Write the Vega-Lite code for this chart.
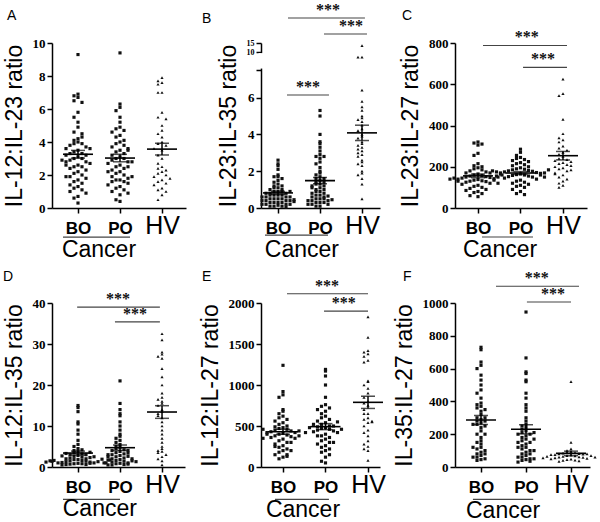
{
"$schema": "https://vega.github.io/schema/vega-lite/v6.json",
"padding": {"left": 2, "top": 1, "right": 0, "bottom": 0},
"datasets": {
"A": [{"g":"BO","v":9.3},{"g":"BO","v":6.9},{"g":"BO","v":6.8},{"g":"BO","v":6.7},{"g":"BO","v":6.5},{"g":"BO","v":6.4},{"g":"BO","v":5.8},{"g":"BO","v":5.5},{"g":"BO","v":5.2},{"g":"BO","v":4.9},{"g":"BO","v":4.6},{"g":"BO","v":4.5},{"g":"BO","v":4.2},{"g":"BO","v":4.1},{"g":"BO","v":4.0},{"g":"BO","v":3.9},{"g":"BO","v":3.9},{"g":"BO","v":3.8},{"g":"BO","v":3.7},{"g":"BO","v":3.6},{"g":"BO","v":3.5},{"g":"BO","v":3.4},{"g":"BO","v":3.3},{"g":"BO","v":3.3},{"g":"BO","v":3.2},{"g":"BO","v":3.2},{"g":"BO","v":3.1},{"g":"BO","v":3.0},{"g":"BO","v":3.0},{"g":"BO","v":2.9},{"g":"BO","v":2.8},{"g":"BO","v":2.8},{"g":"BO","v":2.7},{"g":"BO","v":2.6},{"g":"BO","v":2.5},{"g":"BO","v":2.5},{"g":"BO","v":2.4},{"g":"BO","v":2.3},{"g":"BO","v":2.2},{"g":"BO","v":2.1},{"g":"BO","v":2.0},{"g":"BO","v":1.9},{"g":"BO","v":1.8},{"g":"BO","v":1.7},{"g":"BO","v":1.6},{"g":"BO","v":1.5},{"g":"BO","v":1.4},{"g":"BO","v":1.3},{"g":"BO","v":1.2},{"g":"BO","v":1.1},{"g":"BO","v":1.0},{"g":"BO","v":0.9},{"g":"BO","v":0.7},{"g":"BO","v":0.6},{"g":"BO","v":0.3},{"g":"BO","v":3.6},{"g":"BO","v":2.6},{"g":"BO","v":1.9},{"g":"BO","v":4.3},{"g":"BO","v":2.9},
{"g":"PO","v":9.4},{"g":"PO","v":6.3},{"g":"PO","v":6.1},{"g":"PO","v":5.9},{"g":"PO","v":5.5},{"g":"PO","v":5.2},{"g":"PO","v":4.9},{"g":"PO","v":4.8},{"g":"PO","v":4.7},{"g":"PO","v":4.6},{"g":"PO","v":4.4},{"g":"PO","v":4.3},{"g":"PO","v":4.1},{"g":"PO","v":4.0},{"g":"PO","v":3.9},{"g":"PO","v":3.8},{"g":"PO","v":3.7},{"g":"PO","v":3.6},{"g":"PO","v":3.5},{"g":"PO","v":3.4},{"g":"PO","v":3.3},{"g":"PO","v":3.2},{"g":"PO","v":3.1},{"g":"PO","v":3.0},{"g":"PO","v":3.0},{"g":"PO","v":2.9},{"g":"PO","v":2.8},{"g":"PO","v":2.7},{"g":"PO","v":2.6},{"g":"PO","v":2.5},{"g":"PO","v":2.4},{"g":"PO","v":2.3},{"g":"PO","v":2.2},{"g":"PO","v":2.1},{"g":"PO","v":2.0},{"g":"PO","v":1.9},{"g":"PO","v":1.8},{"g":"PO","v":1.7},{"g":"PO","v":1.7},{"g":"PO","v":1.6},{"g":"PO","v":1.6},{"g":"PO","v":1.5},{"g":"PO","v":1.4},{"g":"PO","v":1.3},{"g":"PO","v":1.2},{"g":"PO","v":1.1},{"g":"PO","v":1.0},{"g":"PO","v":0.9},{"g":"PO","v":0.8},{"g":"PO","v":0.5},{"g":"PO","v":0.4},{"g":"PO","v":2.5},{"g":"PO","v":2.2},{"g":"PO","v":3.5},{"g":"PO","v":1.9},{"g":"PO","v":2.8},
{"g":"HV","v":7.9},{"g":"HV","v":7.7},{"g":"HV","v":7.6},{"g":"HV","v":7.5},{"g":"HV","v":7.0},{"g":"HV","v":7.0},{"g":"HV","v":5.8},{"g":"HV","v":5.5},{"g":"HV","v":5.4},{"g":"HV","v":5.0},{"g":"HV","v":4.7},{"g":"HV","v":4.5},{"g":"HV","v":4.3},{"g":"HV","v":4.0},{"g":"HV","v":3.9},{"g":"HV","v":3.8},{"g":"HV","v":3.6},{"g":"HV","v":3.5},{"g":"HV","v":3.2},{"g":"HV","v":3.0},{"g":"HV","v":2.7},{"g":"HV","v":2.5},{"g":"HV","v":2.4},{"g":"HV","v":2.3},{"g":"HV","v":2.2},{"g":"HV","v":2.1},{"g":"HV","v":2.0},{"g":"HV","v":1.9},{"g":"HV","v":1.8},{"g":"HV","v":1.7},{"g":"HV","v":1.6},{"g":"HV","v":1.5},{"g":"HV","v":1.4},{"g":"HV","v":1.2},{"g":"HV","v":1.1},{"g":"HV","v":1.0},{"g":"HV","v":0.8},{"g":"HV","v":0.5}],
"B": [{"g":"BO","v":2.6},{"g":"BO","v":2.4},{"g":"BO","v":2.3},{"g":"BO","v":2.1},{"g":"BO","v":1.8},{"g":"BO","v":1.7},{"g":"BO","v":1.7},{"g":"BO","v":1.6},{"g":"BO","v":1.5},{"g":"BO","v":1.4},{"g":"BO","v":1.3},{"g":"BO","v":1.2},{"g":"BO","v":1.1},{"g":"BO","v":1.1},{"g":"BO","v":1.0},{"g":"BO","v":1.0},{"g":"BO","v":0.9},{"g":"BO","v":0.9},{"g":"BO","v":0.9},{"g":"BO","v":0.8},{"g":"BO","v":0.8},{"g":"BO","v":0.8},{"g":"BO","v":0.7},{"g":"BO","v":0.7},{"g":"BO","v":0.7},{"g":"BO","v":0.7},{"g":"BO","v":0.6},{"g":"BO","v":0.6},{"g":"BO","v":0.6},{"g":"BO","v":0.5},{"g":"BO","v":0.5},{"g":"BO","v":0.5},{"g":"BO","v":0.5},{"g":"BO","v":0.4},{"g":"BO","v":0.4},{"g":"BO","v":0.4},{"g":"BO","v":0.4},{"g":"BO","v":0.3},{"g":"BO","v":0.3},{"g":"BO","v":0.3},{"g":"BO","v":0.3},{"g":"BO","v":0.2},{"g":"BO","v":0.2},{"g":"BO","v":0.2},{"g":"BO","v":0.2},{"g":"BO","v":0.15},{"g":"BO","v":0.1},{"g":"BO","v":0.1},{"g":"BO","v":0.1},{"g":"BO","v":0.05},{"g":"BO","v":0.6},{"g":"BO","v":0.9},{"g":"BO","v":1.2},{"g":"BO","v":0.35},{"g":"BO","v":0.45},
{"g":"PO","v":5.3},{"g":"PO","v":5.0},{"g":"PO","v":4.0},{"g":"PO","v":3.6},{"g":"PO","v":3.5},{"g":"PO","v":3.3},{"g":"PO","v":2.9},{"g":"PO","v":2.8},{"g":"PO","v":2.8},{"g":"PO","v":2.7},{"g":"PO","v":2.5},{"g":"PO","v":2.2},{"g":"PO","v":2.0},{"g":"PO","v":1.9},{"g":"PO","v":1.8},{"g":"PO","v":1.7},{"g":"PO","v":1.6},{"g":"PO","v":1.6},{"g":"PO","v":1.5},{"g":"PO","v":1.4},{"g":"PO","v":1.4},{"g":"PO","v":1.3},{"g":"PO","v":1.3},{"g":"PO","v":1.2},{"g":"PO","v":1.2},{"g":"PO","v":1.1},{"g":"PO","v":1.0},{"g":"PO","v":1.0},{"g":"PO","v":0.9},{"g":"PO","v":0.9},{"g":"PO","v":0.8},{"g":"PO","v":0.8},{"g":"PO","v":0.7},{"g":"PO","v":0.7},{"g":"PO","v":0.6},{"g":"PO","v":0.6},{"g":"PO","v":0.5},{"g":"PO","v":0.5},{"g":"PO","v":0.5},{"g":"PO","v":0.4},{"g":"PO","v":0.4},{"g":"PO","v":0.4},{"g":"PO","v":0.3},{"g":"PO","v":0.3},{"g":"PO","v":0.3},{"g":"PO","v":0.2},{"g":"PO","v":0.2},{"g":"PO","v":0.2},{"g":"PO","v":0.1},{"g":"PO","v":0.1},{"g":"PO","v":3.1},{"g":"PO","v":2.4},{"g":"PO","v":1.1},{"g":"PO","v":0.65},{"g":"PO","v":0.45},
{"g":"HV","v":13.6},{"g":"HV","v":9.3},{"g":"HV","v":9.3},{"g":"HV","v":6.4},{"g":"HV","v":5.8},{"g":"HV","v":5.5},{"g":"HV","v":5.3},{"g":"HV","v":5.0},{"g":"HV","v":4.9},{"g":"HV","v":4.8},{"g":"HV","v":4.7},{"g":"HV","v":4.5},{"g":"HV","v":4.3},{"g":"HV","v":4.2},{"g":"HV","v":4.0},{"g":"HV","v":3.9},{"g":"HV","v":3.8},{"g":"HV","v":3.6},{"g":"HV","v":3.5},{"g":"HV","v":3.4},{"g":"HV","v":3.3},{"g":"HV","v":3.2},{"g":"HV","v":3.1},{"g":"HV","v":3.0},{"g":"HV","v":2.9},{"g":"HV","v":2.8},{"g":"HV","v":2.6},{"g":"HV","v":2.5},{"g":"HV","v":2.4},{"g":"HV","v":2.3},{"g":"HV","v":2.0},{"g":"HV","v":1.9},{"g":"HV","v":1.8},{"g":"HV","v":1.6},{"g":"HV","v":1.3},{"g":"HV","v":0.5}],
"C": [{"g":"BO","v":320},{"g":"BO","v":315},{"g":"BO","v":310},{"g":"BO","v":305},{"g":"BO","v":265},{"g":"BO","v":255},{"g":"BO","v":215},{"g":"BO","v":205},{"g":"BO","v":200},{"g":"BO","v":195},{"g":"BO","v":190},{"g":"BO","v":185},{"g":"BO","v":180},{"g":"BO","v":175},{"g":"BO","v":170},{"g":"BO","v":165},{"g":"BO","v":160},{"g":"BO","v":158},{"g":"BO","v":155},{"g":"BO","v":152},{"g":"BO","v":150},{"g":"BO","v":148},{"g":"BO","v":145},{"g":"BO","v":142},{"g":"BO","v":140},{"g":"BO","v":138},{"g":"BO","v":135},{"g":"BO","v":132},{"g":"BO","v":130},{"g":"BO","v":128},{"g":"BO","v":125},{"g":"BO","v":120},{"g":"BO","v":115},{"g":"BO","v":110},{"g":"BO","v":105},{"g":"BO","v":100},{"g":"BO","v":95},{"g":"BO","v":90},{"g":"BO","v":85},{"g":"BO","v":80},{"g":"BO","v":75},{"g":"BO","v":70},{"g":"BO","v":60},{"g":"BO","v":55},{"g":"BO","v":150},{"g":"BO","v":145},{"g":"BO","v":160},{"g":"BO","v":140},{"g":"BO","v":135},{"g":"BO","v":130},{"g":"BO","v":120},{"g":"BO","v":170},
{"g":"PO","v":285},{"g":"PO","v":270},{"g":"PO","v":255},{"g":"PO","v":245},{"g":"PO","v":240},{"g":"PO","v":235},{"g":"PO","v":230},{"g":"PO","v":225},{"g":"PO","v":220},{"g":"PO","v":215},{"g":"PO","v":210},{"g":"PO","v":205},{"g":"PO","v":200},{"g":"PO","v":195},{"g":"PO","v":190},{"g":"PO","v":188},{"g":"PO","v":185},{"g":"PO","v":182},{"g":"PO","v":180},{"g":"PO","v":178},{"g":"PO","v":175},{"g":"PO","v":172},{"g":"PO","v":170},{"g":"PO","v":168},{"g":"PO","v":165},{"g":"PO","v":162},{"g":"PO","v":160},{"g":"PO","v":158},{"g":"PO","v":155},{"g":"PO","v":152},{"g":"PO","v":150},{"g":"PO","v":145},{"g":"PO","v":140},{"g":"PO","v":135},{"g":"PO","v":130},{"g":"PO","v":125},{"g":"PO","v":120},{"g":"PO","v":115},{"g":"PO","v":110},{"g":"PO","v":105},{"g":"PO","v":100},{"g":"PO","v":90},{"g":"PO","v":80},{"g":"PO","v":70},{"g":"PO","v":65},{"g":"PO","v":175},{"g":"PO","v":170},{"g":"PO","v":165},{"g":"PO","v":160},{"g":"PO","v":180},{"g":"PO","v":185},{"g":"PO","v":155},{"g":"PO","v":150},
{"g":"HV","v":625},{"g":"HV","v":555},{"g":"HV","v":545},{"g":"HV","v":430},{"g":"HV","v":360},{"g":"HV","v":340},{"g":"HV","v":330},{"g":"HV","v":320},{"g":"HV","v":300},{"g":"HV","v":290},{"g":"HV","v":280},{"g":"HV","v":270},{"g":"HV","v":260},{"g":"HV","v":250},{"g":"HV","v":240},{"g":"HV","v":235},{"g":"HV","v":230},{"g":"HV","v":220},{"g":"HV","v":215},{"g":"HV","v":210},{"g":"HV","v":200},{"g":"HV","v":195},{"g":"HV","v":190},{"g":"HV","v":180},{"g":"HV","v":170},{"g":"HV","v":160},{"g":"HV","v":150},{"g":"HV","v":140},{"g":"HV","v":130},{"g":"HV","v":120},{"g":"HV","v":110},{"g":"HV","v":100},{"g":"HV","v":205},{"g":"HV","v":225},{"g":"HV","v":185},{"g":"HV","v":165}],
"D": [{"g":"BO","v":15},{"g":"BO","v":14.5},{"g":"BO","v":13.5},{"g":"BO","v":11},{"g":"BO","v":10.5},{"g":"BO","v":9},{"g":"BO","v":8},{"g":"BO","v":6.5},{"g":"BO","v":5.5},{"g":"BO","v":5},{"g":"BO","v":4.5},{"g":"BO","v":4},{"g":"BO","v":3.8},{"g":"BO","v":3.5},{"g":"BO","v":3.2},{"g":"BO","v":3},{"g":"BO","v":2.8},{"g":"BO","v":2.6},{"g":"BO","v":2.4},{"g":"BO","v":2.2},{"g":"BO","v":2},{"g":"BO","v":2},{"g":"BO","v":1.8},{"g":"BO","v":1.8},{"g":"BO","v":1.6},{"g":"BO","v":1.5},{"g":"BO","v":1.4},{"g":"BO","v":1.3},{"g":"BO","v":1.2},{"g":"BO","v":1.1},{"g":"BO","v":1},{"g":"BO","v":1},{"g":"BO","v":0.9},{"g":"BO","v":0.8},{"g":"BO","v":0.8},{"g":"BO","v":0.7},{"g":"BO","v":0.6},{"g":"BO","v":1.3},{"g":"BO","v":1.6},{"g":"BO","v":1.9},{"g":"BO","v":2.3},{"g":"BO","v":2.7},{"g":"BO","v":2.5},{"g":"BO","v":1.5},{"g":"BO","v":1},{"g":"BO","v":0.6},{"g":"BO","v":3},{"g":"BO","v":3.3},{"g":"BO","v":3.6},{"g":"BO","v":1.2},{"g":"BO","v":1.7},{"g":"BO","v":4.2},{"g":"BO","v":0.9},{"g":"BO","v":1.4},{"g":"BO","v":0.5},
{"g":"PO","v":21},{"g":"PO","v":15.5},{"g":"PO","v":14},{"g":"PO","v":13},{"g":"PO","v":12.5},{"g":"PO","v":11},{"g":"PO","v":10},{"g":"PO","v":9},{"g":"PO","v":8},{"g":"PO","v":7.5},{"g":"PO","v":7},{"g":"PO","v":6.5},{"g":"PO","v":6},{"g":"PO","v":5.5},{"g":"PO","v":5},{"g":"PO","v":4.8},{"g":"PO","v":4.5},{"g":"PO","v":4.2},{"g":"PO","v":4},{"g":"PO","v":3.8},{"g":"PO","v":3.5},{"g":"PO","v":3.2},{"g":"PO","v":3},{"g":"PO","v":2.8},{"g":"PO","v":2.5},{"g":"PO","v":2.2},{"g":"PO","v":2},{"g":"PO","v":1.8},{"g":"PO","v":1.6},{"g":"PO","v":1.4},{"g":"PO","v":1.2},{"g":"PO","v":1},{"g":"PO","v":0.9},{"g":"PO","v":0.8},{"g":"PO","v":0.6},{"g":"PO","v":0.5},{"g":"PO","v":1.7},{"g":"PO","v":2.6},{"g":"PO","v":3.4},{"g":"PO","v":3},{"g":"PO","v":2.5},{"g":"PO","v":1.5},{"g":"PO","v":1},{"g":"PO","v":4},{"g":"PO","v":2},{"g":"PO","v":0.7},{"g":"PO","v":1.3},{"g":"PO","v":0.5},
{"g":"HV","v":32.5},{"g":"HV","v":31},{"g":"HV","v":28},{"g":"HV","v":27.5},{"g":"HV","v":27},{"g":"HV","v":26.5},{"g":"HV","v":24},{"g":"HV","v":22},{"g":"HV","v":20},{"g":"HV","v":18},{"g":"HV","v":17},{"g":"HV","v":16},{"g":"HV","v":15.5},{"g":"HV","v":15},{"g":"HV","v":14},{"g":"HV","v":13.5},{"g":"HV","v":13},{"g":"HV","v":12},{"g":"HV","v":11},{"g":"HV","v":10},{"g":"HV","v":8},{"g":"HV","v":7},{"g":"HV","v":6},{"g":"HV","v":5},{"g":"HV","v":4.5},{"g":"HV","v":4},{"g":"HV","v":3.8},{"g":"HV","v":3.5},{"g":"HV","v":3},{"g":"HV","v":2.5},{"g":"HV","v":2},{"g":"HV","v":1.5},{"g":"HV","v":0.5},{"g":"HV","v":16.5},{"g":"HV","v":12.5},{"g":"HV","v":9}],
"E": [{"g":"BO","v":1240},{"g":"BO","v":920},{"g":"BO","v":880},{"g":"BO","v":850},{"g":"BO","v":700},{"g":"BO","v":680},{"g":"BO","v":650},{"g":"BO","v":620},{"g":"BO","v":600},{"g":"BO","v":580},{"g":"BO","v":560},{"g":"BO","v":540},{"g":"BO","v":520},{"g":"BO","v":500},{"g":"BO","v":490},{"g":"BO","v":480},{"g":"BO","v":470},{"g":"BO","v":460},{"g":"BO","v":450},{"g":"BO","v":440},{"g":"BO","v":430},{"g":"BO","v":420},{"g":"BO","v":410},{"g":"BO","v":400},{"g":"BO","v":390},{"g":"BO","v":380},{"g":"BO","v":370},{"g":"BO","v":360},{"g":"BO","v":350},{"g":"BO","v":340},{"g":"BO","v":320},{"g":"BO","v":300},{"g":"BO","v":280},{"g":"BO","v":260},{"g":"BO","v":240},{"g":"BO","v":220},{"g":"BO","v":200},{"g":"BO","v":180},{"g":"BO","v":150},{"g":"BO","v":120},{"g":"BO","v":100},{"g":"BO","v":420},{"g":"BO","v":400},{"g":"BO","v":440},{"g":"BO","v":380},{"g":"BO","v":460},{"g":"BO","v":350},{"g":"BO","v":300},{"g":"BO","v":250},{"g":"BO","v":150},{"g":"BO","v":200},{"g":"BO","v":130},
{"g":"PO","v":1190},{"g":"PO","v":1170},{"g":"PO","v":1110},{"g":"PO","v":1000},{"g":"PO","v":850},{"g":"PO","v":760},{"g":"PO","v":740},{"g":"PO","v":720},{"g":"PO","v":700},{"g":"PO","v":680},{"g":"PO","v":650},{"g":"PO","v":620},{"g":"PO","v":600},{"g":"PO","v":580},{"g":"PO","v":560},{"g":"PO","v":540},{"g":"PO","v":520},{"g":"PO","v":500},{"g":"PO","v":490},{"g":"PO","v":480},{"g":"PO","v":470},{"g":"PO","v":460},{"g":"PO","v":450},{"g":"PO","v":440},{"g":"PO","v":430},{"g":"PO","v":420},{"g":"PO","v":400},{"g":"PO","v":380},{"g":"PO","v":360},{"g":"PO","v":340},{"g":"PO","v":320},{"g":"PO","v":300},{"g":"PO","v":280},{"g":"PO","v":260},{"g":"PO","v":240},{"g":"PO","v":220},{"g":"PO","v":200},{"g":"PO","v":180},{"g":"PO","v":150},{"g":"PO","v":120},{"g":"PO","v":70},{"g":"PO","v":50},{"g":"PO","v":500},{"g":"PO","v":480},{"g":"PO","v":460},{"g":"PO","v":520},{"g":"PO","v":550},{"g":"PO","v":420},{"g":"PO","v":380},{"g":"PO","v":300},
{"g":"HV","v":1830},{"g":"HV","v":1580},{"g":"HV","v":1420},{"g":"HV","v":1400},{"g":"HV","v":1380},{"g":"HV","v":1350},{"g":"HV","v":1300},{"g":"HV","v":1280},{"g":"HV","v":1050},{"g":"HV","v":1040},{"g":"HV","v":1000},{"g":"HV","v":960},{"g":"HV","v":900},{"g":"HV","v":850},{"g":"HV","v":800},{"g":"HV","v":780},{"g":"HV","v":750},{"g":"HV","v":700},{"g":"HV","v":650},{"g":"HV","v":600},{"g":"HV","v":580},{"g":"HV","v":560},{"g":"HV","v":540},{"g":"HV","v":500},{"g":"HV","v":450},{"g":"HV","v":420},{"g":"HV","v":380},{"g":"HV","v":320},{"g":"HV","v":280},{"g":"HV","v":250},{"g":"HV","v":220},{"g":"HV","v":200},{"g":"HV","v":80},{"g":"HV","v":650},{"g":"HV","v":550}],
"F": [{"g":"BO","v":730},{"g":"BO","v":715},{"g":"BO","v":640},{"g":"BO","v":620},{"g":"BO","v":600},{"g":"BO","v":560},{"g":"BO","v":530},{"g":"BO","v":500},{"g":"BO","v":470},{"g":"BO","v":450},{"g":"BO","v":420},{"g":"BO","v":390},{"g":"BO","v":380},{"g":"BO","v":370},{"g":"BO","v":360},{"g":"BO","v":350},{"g":"BO","v":340},{"g":"BO","v":320},{"g":"BO","v":300},{"g":"BO","v":290},{"g":"BO","v":280},{"g":"BO","v":270},{"g":"BO","v":260},{"g":"BO","v":250},{"g":"BO","v":240},{"g":"BO","v":220},{"g":"BO","v":200},{"g":"BO","v":180},{"g":"BO","v":160},{"g":"BO","v":140},{"g":"BO","v":120},{"g":"BO","v":110},{"g":"BO","v":100},{"g":"BO","v":90},{"g":"BO","v":80},{"g":"BO","v":70},{"g":"BO","v":60},{"g":"BO","v":50},{"g":"BO","v":45},{"g":"BO","v":40},{"g":"BO","v":300},{"g":"BO","v":280},{"g":"BO","v":260},{"g":"BO","v":200},{"g":"BO","v":150},{"g":"BO","v":120},{"g":"BO","v":80},{"g":"BO","v":60},
{"g":"PO","v":945},{"g":"PO","v":665},{"g":"PO","v":580},{"g":"PO","v":570},{"g":"PO","v":530},{"g":"PO","v":520},{"g":"PO","v":450},{"g":"PO","v":420},{"g":"PO","v":380},{"g":"PO","v":360},{"g":"PO","v":340},{"g":"PO","v":300},{"g":"PO","v":280},{"g":"PO","v":260},{"g":"PO","v":240},{"g":"PO","v":230},{"g":"PO","v":220},{"g":"PO","v":210},{"g":"PO","v":200},{"g":"PO","v":190},{"g":"PO","v":180},{"g":"PO","v":170},{"g":"PO","v":160},{"g":"PO","v":150},{"g":"PO","v":140},{"g":"PO","v":130},{"g":"PO","v":120},{"g":"PO","v":110},{"g":"PO","v":100},{"g":"PO","v":90},{"g":"PO","v":80},{"g":"PO","v":70},{"g":"PO","v":60},{"g":"PO","v":50},{"g":"PO","v":45},{"g":"PO","v":40},{"g":"PO","v":35},{"g":"PO","v":30},{"g":"PO","v":250},{"g":"PO","v":200},{"g":"PO","v":150},{"g":"PO","v":120},{"g":"PO","v":100},{"g":"PO","v":80},{"g":"PO","v":60},{"g":"PO","v":50},{"g":"PO","v":210},{"g":"PO","v":170},
{"g":"HV","v":520},{"g":"HV","v":150},{"g":"HV","v":110},{"g":"HV","v":100},{"g":"HV","v":95},{"g":"HV","v":90},{"g":"HV","v":88},{"g":"HV","v":85},{"g":"HV","v":82},{"g":"HV","v":80},{"g":"HV","v":78},{"g":"HV","v":75},{"g":"HV","v":72},{"g":"HV","v":70},{"g":"HV","v":68},{"g":"HV","v":65},{"g":"HV","v":62},{"g":"HV","v":60},{"g":"HV","v":58},{"g":"HV","v":55},{"g":"HV","v":52},{"g":"HV","v":50},{"g":"HV","v":48},{"g":"HV","v":45},{"g":"HV","v":42},{"g":"HV","v":40},{"g":"HV","v":38},{"g":"HV","v":35},{"g":"HV","v":80},{"g":"HV","v":75},{"g":"HV","v":70},{"g":"HV","v":65},{"g":"HV","v":60},{"g":"HV","v":55}]
},
"concat": [
{"width": 134, "height": 165,
"title": {"text": "A", "anchor": "start", "frame": "group", "dx": -45, "offset": 3, "fontSize": 14, "fontWeight": "normal", "font": "Liberation Sans", "color": "#000", "baseline": "alphabetic"},
"resolve": {"scale": {"x": "independent"}, "axis": {"x": "independent"}},
"layer": [
{"data": {"name": "A"}, "layer": [
{"transform": [{"bin": {"step": 0.45}, "field": "v", "as": "vb"}, {"window": [{"op": "row_number", "as": "r"}], "groupby": ["g", "vb"]}],
"mark": {"type": "point", "filled": true, "color": "#111", "opacity": 1},
"encoding": {
"x": {"field": "g", "type": "nominal", "title": null, "scale": {"type": "point", "domain": ["BO","PO","HV"], "padding": 0.595, "align": 0.52}, "axis": {"labelFont": "Liberation Sans", "labelFontSize": {"condition": {"test": "datum.value === 'HV'", "value": 25}, "value": 17}, "labelFontWeight": {"condition": {"test": "datum.value === 'HV'", "value": "normal"}, "value": "bold"}, "labelBaseline": "alphabetic", "labelPadding": 20, "labelAngle": 0, "tickSize": 5}},
"xOffset": {"field": "r", "type": "ordinal", "scale": {"type": "point", "domain": [16,14,12,10,8,6,4,2,1,3,5,7,9,11,13,15,17], "range": [-32, 32], "padding": 0}},
"y": {"field": "v", "type": "quantitative", "title": "IL-12:IL-23 ratio", "scale": {"domain": [0, 10], "nice": false, "zero": false}, "axis": {"values": [0,2,4,6,8,10], "tickCount": 12, "labelOverlap": false, "labelFont": "Liberation Serif", "labelFontWeight": "bold", "labelFontSize": 13, "labelPadding": 2, "tickSize": 5, "titleFont": "Liberation Sans", "titleFontSize": 23, "titleFontWeight": "normal", "titlePadding": 6}},
"shape": {"field": "g", "type": "nominal", "scale": {"domain": ["BO","PO","HV"], "range": ["square","square","triangle-up"]}, "legend": null},
"size": {"field": "g", "type": "ordinal", "scale": {"domain": ["BO","PO","HV"], "range": [10,10,15]}, "legend": null}}},
{"mark": {"type": "tick", "orient": "horizontal", "size": 30, "thickness": 1.6, "color": "#000"},
"encoding": {"x": {"field": "g", "type": "nominal", "title": null, "scale": {"type": "point", "domain": ["BO","PO","HV"], "padding": 0.595, "align": 0.52}}, "y": {"aggregate": "mean", "field": "v", "type": "quantitative", "title": "IL-12:IL-23 ratio", "scale": {"domain": [0, 10], "nice": false, "zero": false}}}},
{"mark": {"type": "errorbar", "extent": "stderr", "thickness": 1.5, "color": "#000", "ticks": {"size": 14, "thickness": 1.5, "color": "#000"}},
"encoding": {"x": {"field": "g", "type": "nominal", "title": null, "scale": {"type": "point", "domain": ["BO","PO","HV"], "padding": 0.595, "align": 0.52}}, "y": {"field": "v", "type": "quantitative", "title": "IL-12:IL-23 ratio", "scale": {"domain": [0, 10], "nice": false, "zero": false}}}}
]},
{"layer": [
{"data": {"values": [{"x1": 0.643, "x2": 2.238, "v": -1.76}]}, "mark": {"type": "rule", "color": "#444", "strokeWidth": 1.2},
"encoding": {"x": {"field": "x1", "type": "quantitative", "scale": {"domain": [0.381, 3.571], "nice": false, "zero": false}, "axis": null}, "x2": {"field": "x2"}, "y": {"field": "v", "type": "quantitative", "title": "IL-12:IL-23 ratio", "scale": {"domain": [0, 10], "nice": false, "zero": false}}}},
{"data": {"values": [{"x": 1.5, "v": -2.97, "t": "Cancer"}]}, "mark": {"type": "text", "font": "Liberation Sans", "fontSize": 23, "baseline": "alphabetic", "fill": "#000"},
"encoding": {"x": {"field": "x", "type": "quantitative", "scale": {"domain": [0.381, 3.571], "nice": false, "zero": false}, "axis": null}, "y": {"field": "v", "type": "quantitative", "title": "IL-12:IL-23 ratio", "scale": {"domain": [0, 10], "nice": false, "zero": false}}, "text": {"field": "t"}}}
]}
]},
{"width": 119, "height": 165,
"title": {"text": "B", "anchor": "start", "frame": "group", "dx": -59, "offset": -35, "fontSize": 14, "fontWeight": "normal", "font": "Liberation Sans", "color": "#000", "baseline": "alphabetic"},
"resolve": {"scale": {"x": "independent"}, "axis": {"x": "independent"}},
"layer": [
{"data": {"name": "B"}, "layer": [
{"transform": [{"bin": {"step": 0.2}, "field": "v", "as": "vb"}, {"window": [{"op": "row_number", "as": "r"}], "groupby": ["g", "vb"]}],
"mark": {"type": "point", "filled": true, "color": "#111", "opacity": 1},
"encoding": {
"x": {"field": "g", "type": "nominal", "title": null, "scale": {"type": "point", "domain": ["BO","PO","HV"], "padding": 0.417, "align": 0.486}, "axis": {"labelFont": "Liberation Sans", "labelFontSize": {"condition": {"test": "datum.value === 'HV'", "value": 25}, "value": 17}, "labelFontWeight": {"condition": {"test": "datum.value === 'HV'", "value": "normal"}, "value": "bold"}, "labelBaseline": "alphabetic", "labelPadding": 20, "labelAngle": 0, "tickSize": 5}},
"xOffset": {"field": "r", "type": "ordinal", "scale": {"type": "point", "domain": [16,14,12,10,8,6,4,2,1,3,5,7,9,11,13,15,17], "range": [-32, 32], "padding": 0}},
"y": {"field": "v", "type": "quantitative", "title": "IL-23:IL-35 ratio", "scale": {"domain": [0, 7.5, 10, 15], "range": [165, 27, 9, 0], "nice": false, "zero": false}, "axis": {"values": [0,2,4,6,7.5,10,15], "labelExpr": "datum.value == 7.5 ? '' : datum.label", "tickCount": 12, "labelOverlap": false, "labelFont": "Liberation Serif", "labelFontWeight": "bold", "labelFontSize": {"condition": {"test": "datum.value >= 10", "value": 8}, "value": 13}, "labelPadding": 2, "tickSize": 5, "titleFont": "Liberation Sans", "titleFontSize": 23, "titleFontWeight": "normal", "titlePadding": 6}},
"shape": {"field": "g", "type": "nominal", "scale": {"domain": ["BO","PO","HV"], "range": ["square","square","triangle-up"]}, "legend": null},
"size": {"field": "g", "type": "ordinal", "scale": {"domain": ["BO","PO","HV"], "range": [10,10,15]}, "legend": null}}},
{"mark": {"type": "tick", "orient": "horizontal", "size": 30, "thickness": 1.6, "color": "#000"},
"encoding": {"x": {"field": "g", "type": "nominal", "title": null, "scale": {"type": "point", "domain": ["BO","PO","HV"], "padding": 0.417, "align": 0.486}}, "y": {"aggregate": "mean", "field": "v", "type": "quantitative", "title": "IL-23:IL-35 ratio", "scale": {"domain": [0, 7.5, 10, 15], "range": [165, 27, 9, 0], "nice": false, "zero": false}}}},
{"mark": {"type": "errorbar", "extent": "stderr", "thickness": 1.5, "color": "#000", "ticks": {"size": 14, "thickness": 1.5, "color": "#000"}},
"encoding": {"x": {"field": "g", "type": "nominal", "title": null, "scale": {"type": "point", "domain": ["BO","PO","HV"], "padding": 0.417, "align": 0.486}}, "y": {"field": "v", "type": "quantitative", "title": "IL-23:IL-35 ratio", "scale": {"domain": [0, 7.5, 10, 15], "range": [165, 27, 9, 0], "nice": false, "zero": false}}}}
]},
{"layer": [
{"data": {"values": [{"x1": 0.595, "v": 7.7, "v2": 9.85}]}, "mark": {"type": "rule", "color": "#fff", "strokeWidth": 5},
"encoding": {"x": {"field": "x1", "type": "quantitative", "scale": {"domain": [0.595, 3.429], "nice": false, "zero": false}, "axis": null}, "y": {"field": "v", "type": "quantitative", "title": "IL-23:IL-35 ratio", "scale": {"domain": [0, 7.5, 10, 15], "range": [165, 27, 9, 0], "nice": false, "zero": false}}, "y2": {"field": "v2"}}},
{"data": {"values": [{"x1": 0.69, "x2": 2.19, "v": -1.47}, {"x1": 1.214, "x2": 2.214, "v": 6.14}, {"x1": 1.238, "x2": 3.07, "v": 28.9}, {"x1": 2.095, "x2": 3.119, "v": 20.0}]}, "mark": {"type": "rule", "color": "#444", "strokeWidth": 1.2},
"encoding": {"x": {"field": "x1", "type": "quantitative", "scale": {"domain": [0.595, 3.429], "nice": false, "zero": false}, "axis": null}, "x2": {"field": "x2"}, "y": {"field": "v", "type": "quantitative", "title": "IL-23:IL-35 ratio", "scale": {"domain": [0, 7.5, 10, 15], "range": [165, 27, 9, 0], "nice": false, "zero": false}}}},
{"data": {"values": [{"x": 1.57, "v": -2.66, "t": "Cancer"}]}, "mark": {"type": "text", "font": "Liberation Sans", "fontSize": 23, "baseline": "alphabetic", "fill": "#000"},
"encoding": {"x": {"field": "x", "type": "quantitative", "scale": {"domain": [0.595, 3.429], "nice": false, "zero": false}, "axis": null}, "y": {"field": "v", "type": "quantitative", "title": "IL-23:IL-35 ratio", "scale": {"domain": [0, 7.5, 10, 15], "range": [165, 27, 9, 0], "nice": false, "zero": false}}, "text": {"field": "t"}}},
{"data": {"values": [{"x": 1.714, "v": 6.14, "t": "***"}, {"x": 2.19, "v": 28.9, "t": "***"}, {"x": 2.738, "v": 20.0, "t": "***"}]}, "mark": {"type": "text", "font": "Liberation Serif", "fontSize": 16, "fontWeight": "bold", "baseline": "alphabetic", "dy": -3, "fill": "#111"},
"encoding": {"x": {"field": "x", "type": "quantitative", "scale": {"domain": [0.595, 3.429], "nice": false, "zero": false}, "axis": null}, "y": {"field": "v", "type": "quantitative", "title": "IL-23:IL-35 ratio", "scale": {"domain": [0, 7.5, 10, 15], "range": [165, 27, 9, 0], "nice": false, "zero": false}}, "text": {"field": "t"}}}
]}
]},
{"width": 132, "height": 165,
"title": {"text": "C", "anchor": "start", "frame": "group", "dx": -53, "offset": -5, "fontSize": 14, "fontWeight": "normal", "font": "Liberation Sans", "color": "#000", "baseline": "alphabetic"},
"resolve": {"scale": {"x": "independent"}, "axis": {"x": "independent"}},
"layer": [
{"data": {"name": "C"}, "layer": [
{"transform": [{"bin": {"step": 28}, "field": "v", "as": "vb"}, {"window": [{"op": "row_number", "as": "r"}], "groupby": ["g", "vb"]}],
"mark": {"type": "point", "filled": true, "color": "#111", "opacity": 1},
"encoding": {
"x": {"field": "g", "type": "nominal", "title": null, "scale": {"type": "point", "domain": ["BO","PO","HV"], "padding": 0.553, "align": 0.489}, "axis": {"labelFont": "Liberation Sans", "labelFontSize": {"condition": {"test": "datum.value === 'HV'", "value": 25}, "value": 17}, "labelFontWeight": {"condition": {"test": "datum.value === 'HV'", "value": "normal"}, "value": "bold"}, "labelBaseline": "alphabetic", "labelPadding": 20, "labelAngle": 0, "tickSize": 5}},
"xOffset": {"field": "r", "type": "ordinal", "scale": {"type": "point", "domain": [16,14,12,10,8,6,4,2,1,3,5,7,9,11,13,15,17], "range": [-32, 32], "padding": 0}},
"y": {"field": "v", "type": "quantitative", "title": "IL-23:IL-27 ratio", "scale": {"domain": [0, 800], "nice": false, "zero": false}, "axis": {"values": [0,200,400,600,800], "tickCount": 12, "labelOverlap": false, "labelFont": "Liberation Serif", "labelFontWeight": "bold", "labelFontSize": 13, "labelPadding": 2, "tickSize": 5, "titleFont": "Liberation Sans", "titleFontSize": 23, "titleFontWeight": "normal", "titlePadding": 6}},
"shape": {"field": "g", "type": "nominal", "scale": {"domain": ["BO","PO","HV"], "range": ["square","square","triangle-up"]}, "legend": null},
"size": {"field": "g", "type": "ordinal", "scale": {"domain": ["BO","PO","HV"], "range": [10,10,15]}, "legend": null}}},
{"mark": {"type": "tick", "orient": "horizontal", "size": 30, "thickness": 1.6, "color": "#000"},
"encoding": {"x": {"field": "g", "type": "nominal", "title": null, "scale": {"type": "point", "domain": ["BO","PO","HV"], "padding": 0.553, "align": 0.489}}, "y": {"aggregate": "mean", "field": "v", "type": "quantitative", "title": "IL-23:IL-27 ratio", "scale": {"domain": [0, 800], "nice": false, "zero": false}}}},
{"mark": {"type": "errorbar", "extent": "stderr", "thickness": 1.5, "color": "#000", "ticks": {"size": 14, "thickness": 1.5, "color": "#000"}},
"encoding": {"x": {"field": "g", "type": "nominal", "title": null, "scale": {"type": "point", "domain": ["BO","PO","HV"], "padding": 0.553, "align": 0.489}}, "y": {"field": "v", "type": "quantitative", "title": "IL-23:IL-27 ratio", "scale": {"domain": [0, 800], "nice": false, "zero": false}}}}
]},
{"layer": [
{"data": {"values": [{"x1": 1.094, "x2": 2.294, "v": -140.6}, {"x1": 1.118, "x2": 3.094, "v": 788}, {"x1": 2.06, "x2": 3.094, "v": 682}]}, "mark": {"type": "rule", "color": "#444", "strokeWidth": 1.2},
"encoding": {"x": {"field": "x1", "type": "quantitative", "scale": {"domain": [0.459, 3.565], "nice": false, "zero": false}, "axis": null}, "x2": {"field": "x2"}, "y": {"field": "v", "type": "quantitative", "title": "IL-23:IL-27 ratio", "scale": {"domain": [0, 800], "nice": false, "zero": false}}}},
{"data": {"values": [{"x": 1.52, "v": -237.6, "t": "Cancer"}]}, "mark": {"type": "text", "font": "Liberation Sans", "fontSize": 23, "baseline": "alphabetic", "fill": "#000"},
"encoding": {"x": {"field": "x", "type": "quantitative", "scale": {"domain": [0.459, 3.565], "nice": false, "zero": false}, "axis": null}, "y": {"field": "v", "type": "quantitative", "title": "IL-23:IL-27 ratio", "scale": {"domain": [0, 800], "nice": false, "zero": false}}, "text": {"field": "t"}}},
{"data": {"values": [{"x": 2.15, "v": 788, "t": "***"}, {"x": 2.53, "v": 682, "t": "***"}]}, "mark": {"type": "text", "font": "Liberation Serif", "fontSize": 16, "fontWeight": "bold", "baseline": "alphabetic", "dy": -3, "fill": "#111"},
"encoding": {"x": {"field": "x", "type": "quantitative", "scale": {"domain": [0.459, 3.565], "nice": false, "zero": false}, "axis": null}, "y": {"field": "v", "type": "quantitative", "title": "IL-23:IL-27 ratio", "scale": {"domain": [0, 800], "nice": false, "zero": false}}, "text": {"field": "t"}}}
]}
]},
{"width": 133, "height": 164,
"title": {"text": "D", "anchor": "start", "frame": "group", "dx": -49, "offset": -4, "fontSize": 14, "fontWeight": "normal", "font": "Liberation Sans", "color": "#000", "baseline": "alphabetic"},
"resolve": {"scale": {"x": "independent"}, "axis": {"x": "independent"}},
"layer": [
{"data": {"name": "D"}, "layer": [
{"transform": [{"bin": {"step": 1}, "field": "v", "as": "vb"}, {"window": [{"op": "row_number", "as": "r"}], "groupby": ["g", "vb"]}],
"mark": {"type": "point", "filled": true, "color": "#111", "opacity": 1},
"encoding": {
"x": {"field": "g", "type": "nominal", "title": null, "scale": {"type": "point", "domain": ["BO","PO","HV"], "padding": 0.583, "align": 0.531}, "axis": {"labelFont": "Liberation Sans", "labelFontSize": {"condition": {"test": "datum.value === 'HV'", "value": 25}, "value": 17}, "labelFontWeight": {"condition": {"test": "datum.value === 'HV'", "value": "normal"}, "value": "bold"}, "labelBaseline": "alphabetic", "labelPadding": 20, "labelAngle": 0, "tickSize": 5}},
"xOffset": {"field": "r", "type": "ordinal", "scale": {"type": "point", "domain": [16,14,12,10,8,6,4,2,1,3,5,7,9,11,13,15,17], "range": [-32, 32], "padding": 0}},
"y": {"field": "v", "type": "quantitative", "title": "IL-12:IL-35 ratio", "scale": {"domain": [0, 40], "nice": false, "zero": false}, "axis": {"values": [0,10,20,30,40], "tickCount": 12, "labelOverlap": false, "labelFont": "Liberation Serif", "labelFontWeight": "bold", "labelFontSize": 13, "labelPadding": 2, "tickSize": 5, "titleFont": "Liberation Sans", "titleFontSize": 23, "titleFontWeight": "normal", "titlePadding": 6}},
"shape": {"field": "g", "type": "nominal", "scale": {"domain": ["BO","PO","HV"], "range": ["square","square","triangle-up"]}, "legend": null},
"size": {"field": "g", "type": "ordinal", "scale": {"domain": ["BO","PO","HV"], "range": [10,10,15]}, "legend": null}}},
{"mark": {"type": "tick", "orient": "horizontal", "size": 30, "thickness": 1.6, "color": "#000"},
"encoding": {"x": {"field": "g", "type": "nominal", "title": null, "scale": {"type": "point", "domain": ["BO","PO","HV"], "padding": 0.583, "align": 0.531}}, "y": {"aggregate": "mean", "field": "v", "type": "quantitative", "title": "IL-12:IL-35 ratio", "scale": {"domain": [0, 40], "nice": false, "zero": false}}}},
{"mark": {"type": "errorbar", "extent": "stderr", "thickness": 1.5, "color": "#000", "ticks": {"size": 14, "thickness": 1.5, "color": "#000"}},
"encoding": {"x": {"field": "g", "type": "nominal", "title": null, "scale": {"type": "point", "domain": ["BO","PO","HV"], "padding": 0.583, "align": 0.531}}, "y": {"field": "v", "type": "quantitative", "title": "IL-12:IL-35 ratio", "scale": {"domain": [0, 40], "nice": false, "zero": false}}}}
]},
{"layer": [
{"data": {"values": [{"x1": 0.643, "x2": 2.0, "v": -7.9}, {"x1": 0.98, "x2": 2.95, "v": 39.0}, {"x1": 1.88, "x2": 2.95, "v": 35.4}]}, "mark": {"type": "rule", "color": "#444", "strokeWidth": 1.2},
"encoding": {"x": {"field": "x1", "type": "quantitative", "scale": {"domain": [0.381, 3.548], "nice": false, "zero": false}, "axis": null}, "x2": {"field": "x2"}, "y": {"field": "v", "type": "quantitative", "title": "IL-12:IL-35 ratio", "scale": {"domain": [0, 40], "nice": false, "zero": false}}}},
{"data": {"values": [{"x": 1.52, "v": -11.9, "t": "Cancer"}]}, "mark": {"type": "text", "font": "Liberation Sans", "fontSize": 23, "baseline": "alphabetic", "fill": "#000"},
"encoding": {"x": {"field": "x", "type": "quantitative", "scale": {"domain": [0.381, 3.548], "nice": false, "zero": false}, "axis": null}, "y": {"field": "v", "type": "quantitative", "title": "IL-12:IL-35 ratio", "scale": {"domain": [0, 40], "nice": false, "zero": false}}, "text": {"field": "t"}}},
{"data": {"values": [{"x": 1.95, "v": 39.0, "t": "***"}, {"x": 2.36, "v": 35.4, "t": "***"}]}, "mark": {"type": "text", "font": "Liberation Serif", "fontSize": 16, "fontWeight": "bold", "baseline": "alphabetic", "dy": -3, "fill": "#111"},
"encoding": {"x": {"field": "x", "type": "quantitative", "scale": {"domain": [0.381, 3.548], "nice": false, "zero": false}, "axis": null}, "y": {"field": "v", "type": "quantitative", "title": "IL-12:IL-35 ratio", "scale": {"domain": [0, 40], "nice": false, "zero": false}}, "text": {"field": "t"}}}
]}
]},
{"width": 119, "height": 164,
"title": {"text": "E", "anchor": "start", "frame": "group", "dx": -59, "offset": -17, "fontSize": 14, "fontWeight": "normal", "font": "Liberation Sans", "color": "#000", "baseline": "alphabetic"},
"resolve": {"scale": {"x": "independent"}, "axis": {"x": "independent"}},
"layer": [
{"data": {"name": "E"}, "layer": [
{"transform": [{"bin": {"step": 70}, "field": "v", "as": "vb"}, {"window": [{"op": "row_number", "as": "r"}], "groupby": ["g", "vb"]}],
"mark": {"type": "point", "filled": true, "color": "#111", "opacity": 1},
"encoding": {
"x": {"field": "g", "type": "nominal", "title": null, "scale": {"type": "point", "domain": ["BO","PO","HV"], "padding": 0.4, "align": 0.647}, "axis": {"labelFont": "Liberation Sans", "labelFontSize": {"condition": {"test": "datum.value === 'HV'", "value": 25}, "value": 17}, "labelFontWeight": {"condition": {"test": "datum.value === 'HV'", "value": "normal"}, "value": "bold"}, "labelBaseline": "alphabetic", "labelPadding": 20, "labelAngle": 0, "tickSize": 5}},
"xOffset": {"field": "r", "type": "ordinal", "scale": {"type": "point", "domain": [16,14,12,10,8,6,4,2,1,3,5,7,9,11,13,15,17], "range": [-32, 32], "padding": 0}},
"y": {"field": "v", "type": "quantitative", "title": "IL-12:IL-27 ratio", "scale": {"domain": [0, 2000], "nice": false, "zero": false}, "axis": {"values": [0,500,1000,1500,2000], "tickCount": 12, "format": "d", "labelOverlap": false, "labelFont": "Liberation Serif", "labelFontWeight": "bold", "labelFontSize": 13, "labelPadding": 2, "tickSize": 5, "titleFont": "Liberation Sans", "titleFontSize": 23, "titleFontWeight": "normal", "titlePadding": 6}},
"shape": {"field": "g", "type": "nominal", "scale": {"domain": ["BO","PO","HV"], "range": ["square","square","triangle-up"]}, "legend": null},
"size": {"field": "g", "type": "ordinal", "scale": {"domain": ["BO","PO","HV"], "range": [10,10,15]}, "legend": null}}},
{"mark": {"type": "tick", "orient": "horizontal", "size": 30, "thickness": 1.6, "color": "#000"},
"encoding": {"x": {"field": "g", "type": "nominal", "title": null, "scale": {"type": "point", "domain": ["BO","PO","HV"], "padding": 0.4, "align": 0.647}}, "y": {"aggregate": "mean", "field": "v", "type": "quantitative", "title": "IL-12:IL-27 ratio", "scale": {"domain": [0, 2000], "nice": false, "zero": false}}}},
{"mark": {"type": "errorbar", "extent": "stderr", "thickness": 1.5, "color": "#000", "ticks": {"size": 14, "thickness": 1.5, "color": "#000"}},
"encoding": {"x": {"field": "g", "type": "nominal", "title": null, "scale": {"type": "point", "domain": ["BO","PO","HV"], "padding": 0.4, "align": 0.647}}, "y": {"field": "v", "type": "quantitative", "title": "IL-12:IL-27 ratio", "scale": {"domain": [0, 2000], "nice": false, "zero": false}}}}
]},
{"layer": [
{"data": {"values": [{"x1": 0.81, "x2": 2.08, "v": -395}, {"x1": 1.094, "x2": 3.0, "v": 2113}, {"x1": 1.965, "x2": 3.0, "v": 1902}]}, "mark": {"type": "rule", "color": "#444", "strokeWidth": 1.2},
"encoding": {"x": {"field": "x1", "type": "quantitative", "scale": {"domain": [0.482, 3.282], "nice": false, "zero": false}, "axis": null}, "x2": {"field": "x2"}, "y": {"field": "v", "type": "quantitative", "title": "IL-12:IL-27 ratio", "scale": {"domain": [0, 2000], "nice": false, "zero": false}}}},
{"data": {"values": [{"x": 1.47, "v": -615, "t": "Cancer"}]}, "mark": {"type": "text", "font": "Liberation Sans", "fontSize": 23, "baseline": "alphabetic", "fill": "#000"},
"encoding": {"x": {"field": "x", "type": "quantitative", "scale": {"domain": [0.482, 3.282], "nice": false, "zero": false}, "axis": null}, "y": {"field": "v", "type": "quantitative", "title": "IL-12:IL-27 ratio", "scale": {"domain": [0, 2000], "nice": false, "zero": false}}, "text": {"field": "t"}}},
{"data": {"values": [{"x": 2.035, "v": 2113, "t": "***"}, {"x": 2.43, "v": 1902, "t": "***"}]}, "mark": {"type": "text", "font": "Liberation Serif", "fontSize": 16, "fontWeight": "bold", "baseline": "alphabetic", "dy": -3, "fill": "#111"},
"encoding": {"x": {"field": "x", "type": "quantitative", "scale": {"domain": [0.482, 3.282], "nice": false, "zero": false}, "axis": null}, "y": {"field": "v", "type": "quantitative", "title": "IL-12:IL-27 ratio", "scale": {"domain": [0, 2000], "nice": false, "zero": false}}, "text": {"field": "t"}}}
]}
]},
{"width": 135, "height": 164,
"title": {"text": "F", "anchor": "start", "frame": "group", "dx": -52, "offset": -25, "fontSize": 14, "fontWeight": "normal", "font": "Liberation Sans", "color": "#000", "baseline": "alphabetic"},
"resolve": {"scale": {"x": "independent"}, "axis": {"x": "independent"}},
"layer": [
{"data": {"name": "F"}, "layer": [
{"transform": [{"bin": {"step": 25}, "field": "v", "as": "vb"}, {"window": [{"op": "row_number", "as": "r"}], "groupby": ["g", "vb"]}],
"mark": {"type": "point", "filled": true, "color": "#111", "opacity": 1},
"encoding": {
"x": {"field": "g", "type": "nominal", "title": null, "scale": {"type": "point", "domain": ["BO","PO","HV"], "padding": 0.5, "align": 0.578}, "axis": {"labelFont": "Liberation Sans", "labelFontSize": {"condition": {"test": "datum.value === 'HV'", "value": 25}, "value": 17}, "labelFontWeight": {"condition": {"test": "datum.value === 'HV'", "value": "normal"}, "value": "bold"}, "labelBaseline": "alphabetic", "labelPadding": 20, "labelAngle": 0, "tickSize": 5}},
"xOffset": {"field": "r", "type": "ordinal", "scale": {"type": "point", "domain": [16,14,12,10,8,6,4,2,1,3,5,7,9,11,13,15,17], "range": [-28, 28], "padding": 0}},
"y": {"field": "v", "type": "quantitative", "title": "IL-35:IL-27 ratio", "scale": {"domain": [0, 1000], "nice": false, "zero": false}, "axis": {"values": [0,200,400,600,800,1000], "tickCount": 12, "format": "d", "labelOverlap": false, "labelFont": "Liberation Serif", "labelFontWeight": "bold", "labelFontSize": 13, "labelPadding": 2, "tickSize": 5, "titleFont": "Liberation Sans", "titleFontSize": 23, "titleFontWeight": "normal", "titlePadding": 6}},
"shape": {"field": "g", "type": "nominal", "scale": {"domain": ["BO","PO","HV"], "range": ["square","square","triangle-up"]}, "legend": null},
"size": {"field": "g", "type": "ordinal", "scale": {"domain": ["BO","PO","HV"], "range": [10,10,15]}, "legend": null}}},
{"mark": {"type": "tick", "orient": "horizontal", "size": 30, "thickness": 1.6, "color": "#000"},
"encoding": {"x": {"field": "g", "type": "nominal", "title": null, "scale": {"type": "point", "domain": ["BO","PO","HV"], "padding": 0.5, "align": 0.578}}, "y": {"aggregate": "mean", "field": "v", "type": "quantitative", "title": "IL-35:IL-27 ratio", "scale": {"domain": [0, 1000], "nice": false, "zero": false}}}},
{"mark": {"type": "errorbar", "extent": "stderr", "thickness": 1.5, "color": "#000", "ticks": {"size": 14, "thickness": 1.5, "color": "#000"}},
"encoding": {"x": {"field": "g", "type": "nominal", "title": null, "scale": {"type": "point", "domain": ["BO","PO","HV"], "padding": 0.5, "align": 0.578}}, "y": {"field": "v", "type": "quantitative", "title": "IL-35:IL-27 ratio", "scale": {"domain": [0, 1000], "nice": false, "zero": false}}}}
]},
{"layer": [
{"data": {"values": [{"x1": 0.82, "x2": 2.16, "v": -197}, {"x1": 1.333, "x2": 3.178, "v": 1102}, {"x1": 2.02, "x2": 3.0, "v": 1006}]}, "mark": {"type": "rule", "color": "#444", "strokeWidth": 1.2},
"encoding": {"x": {"field": "x1", "type": "quantitative", "scale": {"domain": [0.422, 3.422], "nice": false, "zero": false}, "axis": null}, "x2": {"field": "x2"}, "y": {"field": "v", "type": "quantitative", "title": "IL-35:IL-27 ratio", "scale": {"domain": [0, 1000], "nice": false, "zero": false}}}},
{"data": {"values": [{"x": 1.49, "v": -308, "t": "Cancer"}]}, "mark": {"type": "text", "font": "Liberation Sans", "fontSize": 23, "baseline": "alphabetic", "fill": "#000"},
"encoding": {"x": {"field": "x", "type": "quantitative", "scale": {"domain": [0.422, 3.422], "nice": false, "zero": false}, "axis": null}, "y": {"field": "v", "type": "quantitative", "title": "IL-35:IL-27 ratio", "scale": {"domain": [0, 1000], "nice": false, "zero": false}}, "text": {"field": "t"}}},
{"data": {"values": [{"x": 2.24, "v": 1102, "t": "***"}, {"x": 2.6, "v": 1006, "t": "***"}]}, "mark": {"type": "text", "font": "Liberation Serif", "fontSize": 16, "fontWeight": "bold", "baseline": "alphabetic", "dy": -3, "fill": "#111"},
"encoding": {"x": {"field": "x", "type": "quantitative", "scale": {"domain": [0.422, 3.422], "nice": false, "zero": false}, "axis": null}, "y": {"field": "v", "type": "quantitative", "title": "IL-35:IL-27 ratio", "scale": {"domain": [0, 1000], "nice": false, "zero": false}}, "text": {"field": "t"}}}
]}
]}
],
"columns": 3,
"align": "none",
"spacing": {"row": 95, "column": 75},
"bounds": "flush",
"config": {"view": {"stroke": null}, "mark": {"color": "#000"}, "axis": {"grid": false, "domainColor": "#000", "tickColor": "#000", "labelColor": "#000", "titleColor": "#000", "domainWidth": 1.5, "tickWidth": 1.5}}
}
